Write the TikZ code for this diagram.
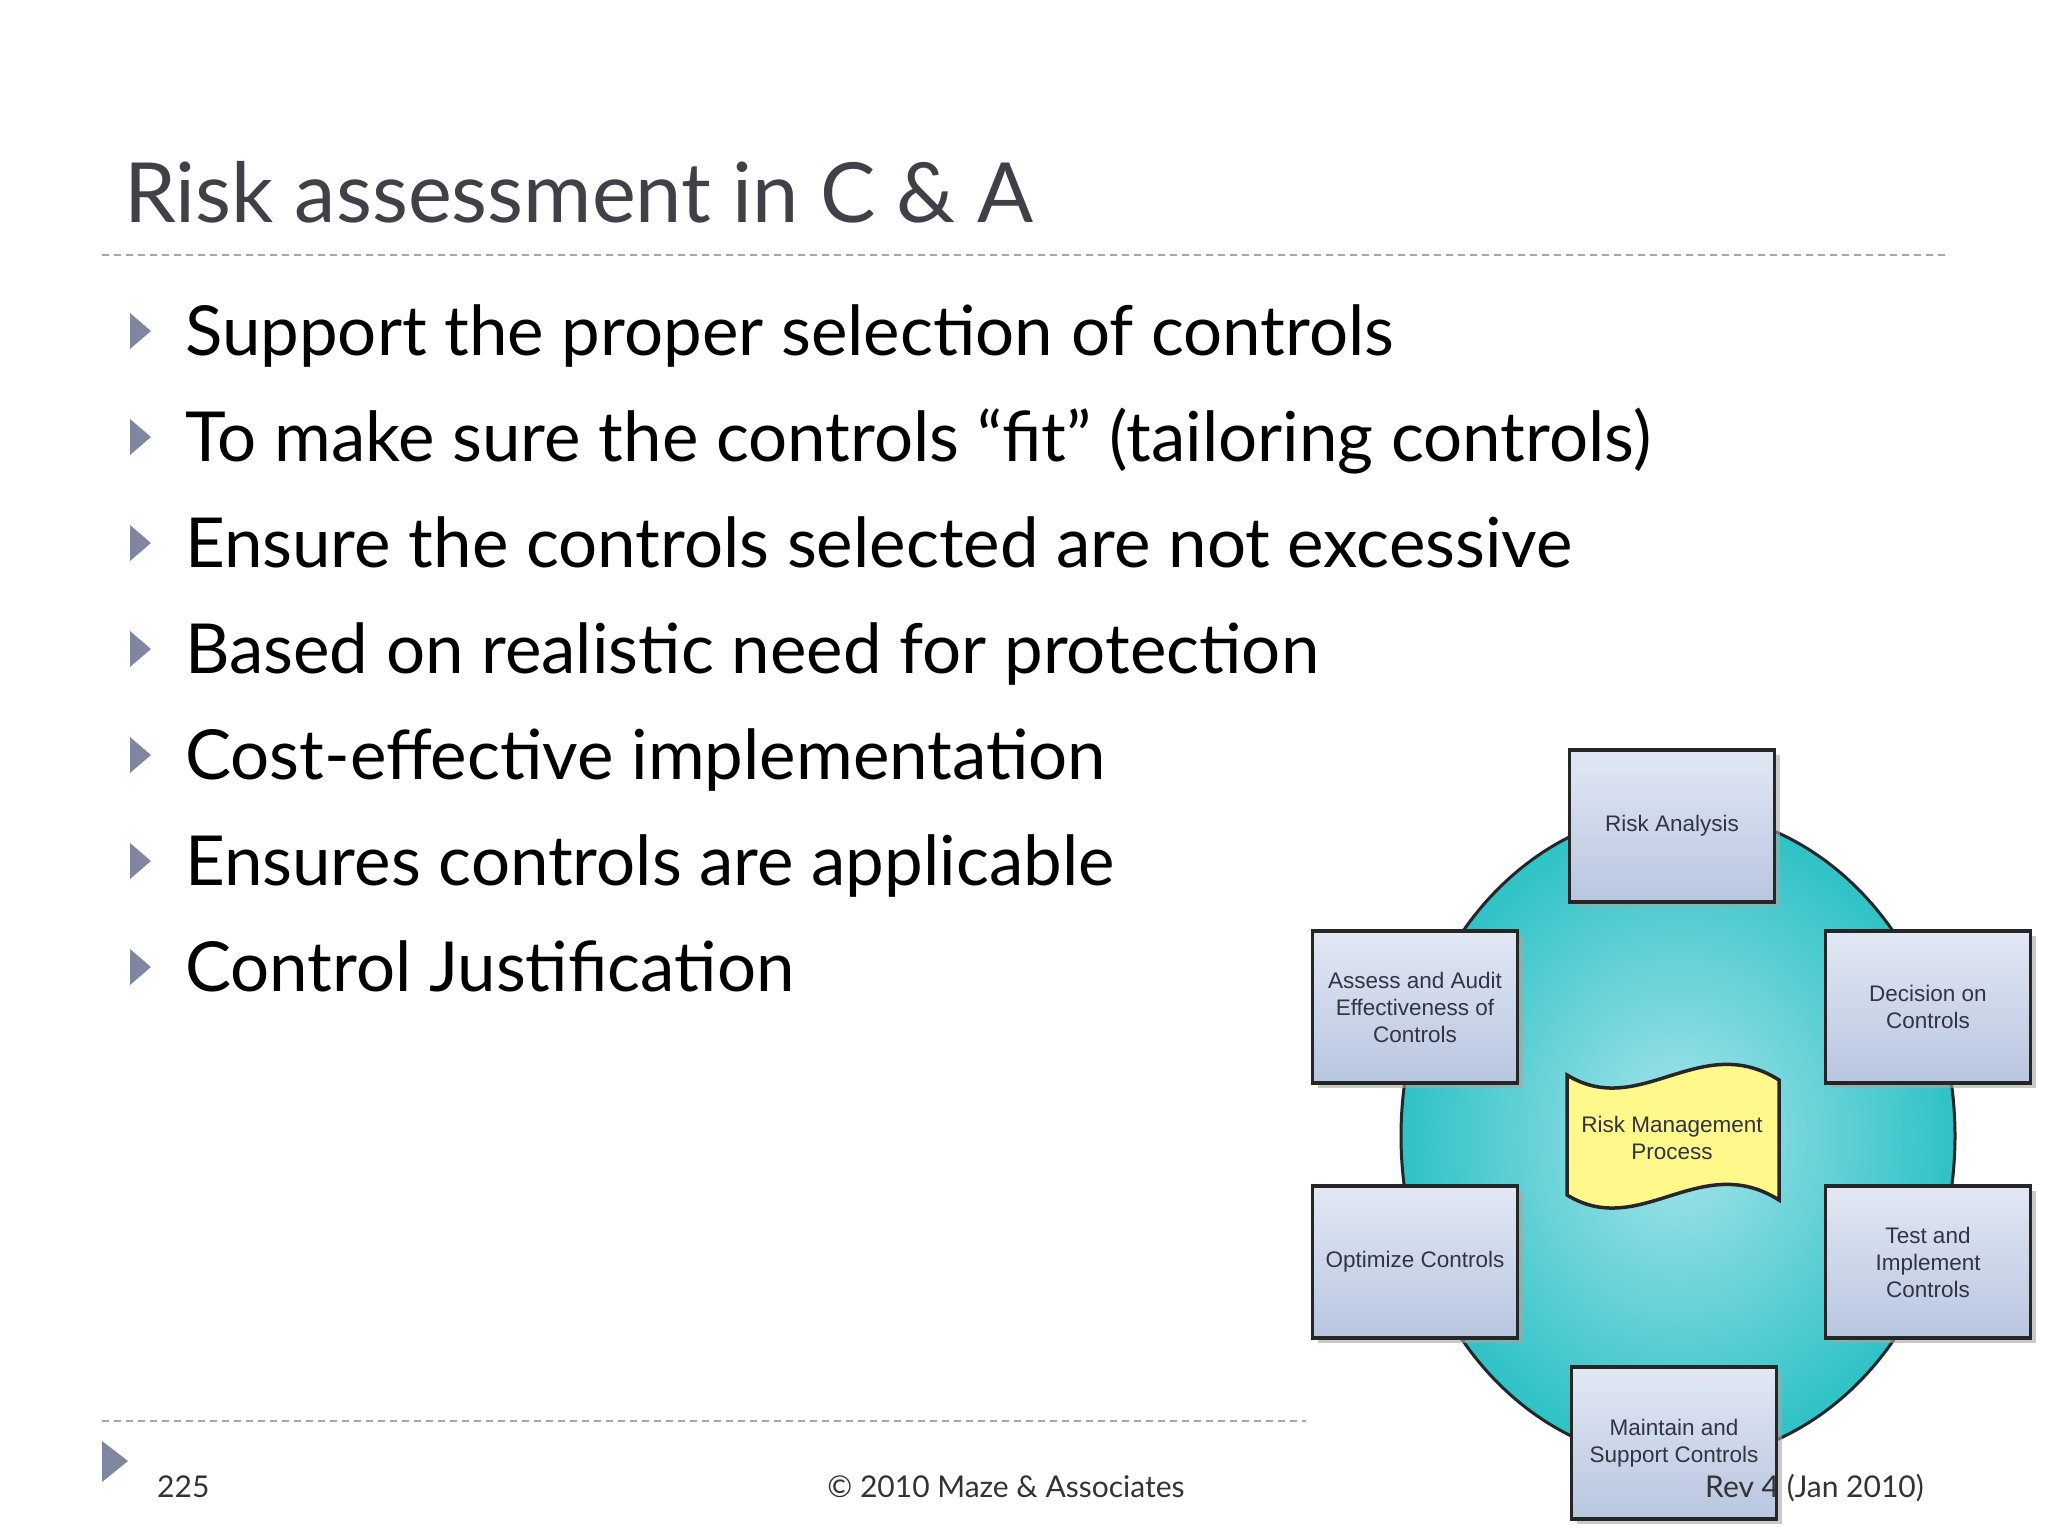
\documentclass[tikz,border=0pt]{standalone}
\usepackage{fontspec}
\setmainfont{Lato}
\newfontfamily\arialf{Liberation Sans}
\usetikzlibrary{shadows}
\definecolor{titlegray}{HTML}{404048}
\definecolor{tri}{HTML}{7F86A0}
\definecolor{boxtxt}{HTML}{333344}
\definecolor{boxtop}{HTML}{E2E8F4}
\definecolor{boxbot}{HTML}{B8C6E0}
\definecolor{ellA}{HTML}{A8E4EC}
\definecolor{ellB}{HTML}{2EC2C6}
\tikzset{
  px/.style={x=1pt,y=-1pt},
  bul/.style={anchor=base west,font=\fontsize{69}{76}\selectfont,text=black,inner sep=0},
  stepbox/.style={draw=black!85,line width=3.5pt,top color=boxtop,bottom color=boxbot,
     minimum width=205pt,minimum height=152pt,align=center,font=\arialf\fontsize{22.5}{27}\selectfont,text=boxtxt,
     drop shadow={shadow xshift=5pt,shadow yshift=-5pt,fill=black!35,opacity=.6}},
  foot/.style={anchor=base,font=\fontsize{30}{34}\selectfont,text=black!80,inner sep=0},
  rule/.style={dash pattern=on 7pt off 5pt,black!35,line width=1.3pt}
}
\begin{document}
\begin{tikzpicture}[px]
\useasboundingbox[fill=white] (0,0) rectangle (2048,1536);
\node[anchor=base west,inner sep=0,font=\fontsize{83}{88}\selectfont,text=titlegray] (title) at (124,222) {Risk assessment in C \& A};
\draw[rule] (102,255) -- (1946,255);
\foreach \i/\t in {0/{Support the proper selection of controls},
 1/{To make sure the controls ``fit'' (tailoring controls)},
 2/{Ensure the controls selected are not excessive},
 3/{Based on realistic need for protection},
 4/{Cost-effective implementation},
 5/{Ensures controls are applicable},
 6/{Control Justification}}{
  \fill[tri] (130,{355+106*\i-42}) -- (151,{355+106*\i-24}) -- (130,{355+106*\i-6}) -- cycle;
  \node[bul] (b\i) at (185,{355+106*\i}) {\t};
}
% diagram
\shade[outer color=ellB, inner color=ellA, draw=black!85, line width=3pt]
  (1678,1136) ellipse [x radius=277, y radius=325];
\node[stepbox] (ra) at (1672,826) {Risk Analysis};
\node[stepbox] (aa) at (1415,1007) {Assess and Audit\\Effectiveness of\\Controls};
\node[stepbox] (dc) at (1928,1007) {Decision on\\Controls};
\node[stepbox] (oc) at (1415,1262) {Optimize Controls};
\node[stepbox] (ti) at (1928,1262) {Test and\\Implement\\Controls};
\node[stepbox] (ms) at (1674,1443) {Maintain and\\Support Controls};
\draw[fill=yellow!45!white,draw=black!85,line width=3.5pt]
  (1567,1075) .. controls (1640,1120) and (1700,1030) .. (1779,1080)
  -- (1779,1200) .. controls (1700,1150) and (1640,1240) .. (1567,1195) -- cycle;
\node[align=center,font=\arialf\fontsize{22.5}{27}\selectfont,text=boxtxt] (rm) at (1672,1138) {Risk Management\\Process};
% footer
\draw[rule] (102,1421) -- (1306,1421);
\fill[tri] (102,1441) -- (128,1461) -- (102,1482) -- cycle;
\node[foot,anchor=base west] (pg) at (157,1497) {225};
\node[foot] (cp) at (1006,1497) {© 2010 Maze \& Associates};
\node[foot,anchor=base east] (rev) at (1924,1497) {Rev 4 (Jan 2010)};
\end{tikzpicture}
\end{document}
